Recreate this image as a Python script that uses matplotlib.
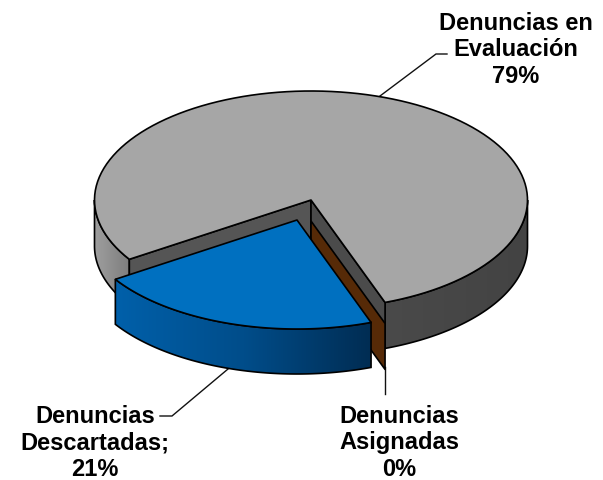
import numpy as np
import matplotlib
matplotlib.use("Agg")
import matplotlib.pyplot as plt
from matplotlib.patches import Polygon
from matplotlib.colors import LinearSegmentedColormap

plt.rcParams['font.family'] = ['Liberation Sans', 'DejaVu Sans']

labels = ["Denuncias en\nEvaluación\n79%", "Denuncias\nAsignadas\n0%", "Denuncias\nDescartadas;\n21%"]
values = [78.6, 0, 21.4]

fig = plt.figure(figsize=(6.03, 4.81), dpi=100)
ax = fig.add_axes([0, 0, 1, 1])
ax.set_xlim(0, 603)
ax.set_ylim(481, 0)
ax.axis("off")

# pie shape, in pixels of the picture
cx, cy = 311, 201
rx, ry = 216.5, 109
depth = 46
start = 70.0
edge = "#000000"
lw = 1.2

sweep = [v * 3.6 for v in values]
blue_end = start + sweep[2]


def rim(dx, dy, t0, t1):
    t = np.radians(np.linspace(t0, t1, 120))
    return np.column_stack([cx + dx + rx * np.cos(t), cy + dy + ry * np.sin(t)])


def poly(pts, color, z):
    p = Polygon(pts, closed=True, facecolor=color, edgecolor=edge, lw=lw, zorder=z, joinstyle="round")
    ax.add_patch(p)
    return p


def grad_side(dx, dy, t0, t1, x0, x1, colors, z, d=depth):
    top = rim(dx, dy, t0, t1)
    pts = np.vstack([top, top[::-1] + [0, d]])
    p = Polygon(pts, closed=True, facecolor="none", edgecolor=edge, lw=lw, zorder=z + 0.1)
    ax.add_patch(p)
    cmap = LinearSegmentedColormap.from_list("side", colors)
    im = ax.imshow(np.linspace(0, 1, 256).reshape(1, -1), cmap=cmap, aspect="auto",
                   extent=[x0, x1, pts[:, 1].max() + 2, pts[:, 1].min() - 2], zorder=z)
    im.set_clip_path(p)


# gray slice: outer side, inner walls, top
grad_side(0, 0, 0, start, 380, 530, ["#4a4a4a", "#434343"], 1)
grad_side(0, 0, blue_end, 180, 93, 131, ["#a0a0a0", "#7c7c7c"], 1)

tip = np.array([cx, cy])
right_c = rim(0, 0, start, start)[0]
left_c = rim(0, 0, blue_end, blue_end)[0]
poly([tip, left_c, left_c + [0, depth], tip + [0, depth]], "#555555", 2)
poly([tip, right_c, right_c + [0, depth], tip + [0, depth]], "#4b4b4b", 2)

top_gray = np.vstack([[tip], rim(0, 0, blue_end, start + 360)])
poly(top_gray, "#a6a6a6", 3)

# zero slice only shows as a thin wall
bx, by = 0, 21
b_tip = tip + [bx, by]
b_c = rim(bx, by, start, start)[0]
poly([b_tip, b_c, b_c + [0, depth], b_tip + [0, depth]], "#562a07", 4)

# blue slice pulled out
ox, oy = -14, 20
grad_side(ox, oy, start, blue_end, 115, 373, ["#0060aa", "#004d8a", "#002c52"], 5, d=45)
poly(np.vstack([[tip + [ox, oy]], rim(ox, oy, start, blue_end)]), "#0070c0", 6)

# leader lines
ax.plot([380, 436, 447], [97, 55, 55], color="#111111", lw=1.0, zorder=2, solid_joinstyle="miter")
ax.plot([228, 172, 160], [370, 417, 417], color="#111111", lw=1.0, zorder=2, solid_joinstyle="miter")
ax.plot([385, 385], [368, 395], color="#111111", lw=1.0, zorder=2)

# data labels
pos = [(516, 83), (399, 476), (95, 476)]
for lab, (x, y) in zip(labels, pos):
    ax.text(x, y, lab, fontsize=17, fontweight="bold", ha="center", va="baseline",
            multialignment="center", linespacing=1.2, color="black", zorder=8)

fig.savefig("out.png", dpi=100)
